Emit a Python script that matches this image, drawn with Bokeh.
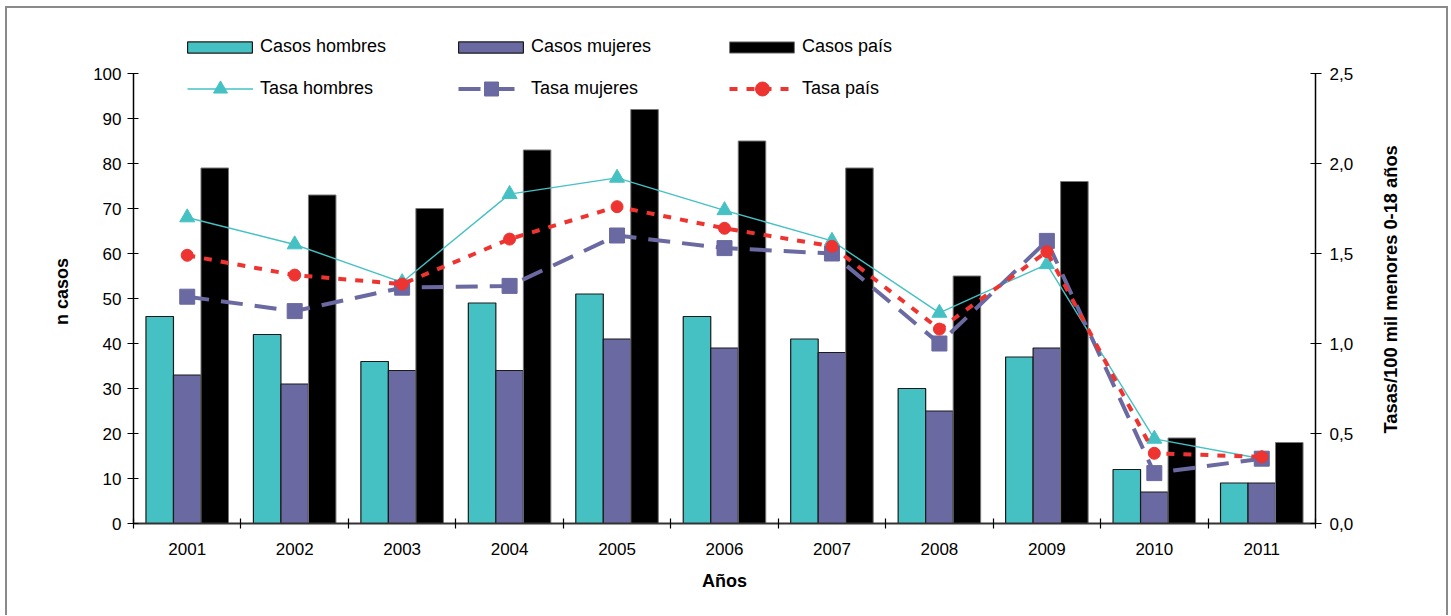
import math
import numpy as np
from bokeh.plotting import figure
from bokeh.models import (Range1d, LinearAxis, FixedTicker, CustomJSTickFormatter,
                          Legend, LegendItem)
from bokeh.embed import file_html
from bokeh.resources import INLINE

# Yearly cases and rates per 100k population aged 0-18
years = ["2001", "2002", "2003", "2004", "2005", "2006",
         "2007", "2008", "2009", "2010", "2011"]
casos_hombres = [46, 42, 36, 49, 51, 46, 41, 30, 37, 12, 9]
casos_mujeres = [33, 31, 34, 34, 41, 39, 38, 25, 39, 7, 9]
casos_pais = [79, 73, 70, 83, 92, 85, 79, 55, 76, 19, 18]
tasa_hombres = [1.70, 1.55, 1.34, 1.83, 1.92, 1.74, 1.57, 1.17, 1.44, 0.47, 0.36]
tasa_mujeres = [1.26, 1.18, 1.31, 1.32, 1.60, 1.53, 1.50, 1.00, 1.57, 0.28, 0.36]
tasa_pais = [1.49, 1.38, 1.33, 1.58, 1.76, 1.64, 1.54, 1.08, 1.51, 0.39, 0.37]

left_ticks = [0, 10, 20, 30, 40, 50, 60, 70, 80, 90, 100]
right_ticks = [0.0, 0.5, 1.0, 1.5, 2.0, 2.5]
right_title = "Tasas/100 mil menores 0-18 años"

CYAN = "#45C1C4"
PURPLE = "#6A69A1"
RED = "#EE3431"
FONT = "Liberation Sans"
GRAY = "#8a8a8a"
NBSP = "\u00a0"

n = len(years)
x = np.arange(n) + 0.5
w = 0.256

# Plot frame: axes run over the lower 450 px; the strip above holds the legends
FRAME_H = 489
AXIS_H = 450
left_max = 100 * FRAME_H / AXIS_H
right_max = 2.5 * FRAME_H / AXIS_H

p = figure(width=1443, height=609, x_range=Range1d(0, n),
           y_range=Range1d(0, left_max),
           output_backend="svg", toolbar_location=None,
           min_border_left=128, min_border_right=133,
           min_border_top=28, min_border_bottom=92)
p.margin = (6, 3, 0, 5)
p.styles = {"box-shadow": f"inset 2px 0 0 {GRAY}, inset -2px 0 0 {GRAY}, inset 0 2px 0 {GRAY}"}
p.outline_line_color = None
p.xgrid.visible = False
p.ygrid.visible = False
p.background_fill_color = "white"
p.border_fill_alpha = 0

# bars (left axis)
b1 = p.vbar(x=x - w, top=casos_hombres, width=w, bottom=0,
            fill_color=CYAN, line_color="#1a1a1a", line_width=1.2)
b2 = p.vbar(x=x, top=casos_mujeres, width=w, bottom=0,
            fill_color=PURPLE, line_color="#1a1a1a", line_width=1.2)
b3 = p.vbar(x=x + w, top=casos_pais, width=w, bottom=0,
            fill_color="black", line_color="#777777", line_width=1.0)

# rates (right axis)
p.extra_y_ranges = {"tasa": Range1d(0, right_max)}
lh = p.line(x, tasa_hombres, y_range_name="tasa", line_color=CYAN, line_width=1.4)
sh = p.scatter(x, tasa_hombres, y_range_name="tasa", marker="triangle", size=15,
               fill_color=CYAN, line_color=CYAN)
lm = p.line(x, tasa_mujeres, y_range_name="tasa", line_color=PURPLE, line_width=4,
            line_dash="22 12")
sm = p.scatter(x, tasa_mujeres, y_range_name="tasa", marker="square", size=15,
               fill_color=PURPLE, line_color=PURPLE)
lp = p.line(x, tasa_pais, y_range_name="tasa", line_color=RED, line_width=4,
            line_dash="8 9")
sp = p.scatter(x, tasa_pais, y_range_name="tasa", marker="circle", size=12,
               fill_color=RED, line_color=RED)

# x axis: labels at the category centres, ticks at the boundaries
xa = p.xaxis[0]
xa.ticker = FixedTicker(ticks=list(x), minor_ticks=list(range(n + 1)))
xa.formatter = CustomJSTickFormatter(args=dict(labels=years),
                                     code="return labels[Math.floor(tick)]")
xa.major_tick_in = 0
xa.major_tick_out = 0
xa.minor_tick_in = 5
xa.minor_tick_out = 5
xa.minor_tick_line_color = "black"
xa.minor_tick_line_width = 1.2
xa.axis_line_color = "#333333"
xa.axis_line_width = 2
xa.major_label_standoff = 14
xa.major_label_text_font = FONT
xa.major_label_text_font_size = "17px"
xa.major_label_text_color = "black"
xa.axis_label = "Años"
xa.axis_label_standoff = 13
xa.axis_label_text_font = FONT
xa.axis_label_text_font_size = "18px"
xa.axis_label_text_font_style = "bold"
xa.axis_label_text_color = "black"

# left axis (trailing no-break spaces centre the title on the 0-100 span)
ya = p.yaxis[0]
ya.ticker = FixedTicker(ticks=left_ticks)
ya.bounds = (0, 100)
ya.axis_label = "n casos" + NBSP * 5
ya.axis_label_text_font = FONT
ya.axis_label_text_font_size = "18px"
ya.axis_label_text_font_style = "bold"
ya.axis_label_text_color = "black"
ya.axis_label_standoff = 18
ya.major_label_standoff = 6

# right axis for the rates
right = LinearAxis(y_range_name="tasa", ticker=FixedTicker(ticks=right_ticks),
                   formatter=CustomJSTickFormatter(
                       code="return tick.toFixed(1).replace('.', ',')"),
                   bounds=(0, 2.5), major_label_standoff=8)
p.add_layout(right, "right")

for ax in (ya, right):
    ax.major_tick_in = 5
    ax.major_tick_out = 6
    ax.minor_tick_line_color = None
    ax.axis_line_color = "black"
    ax.axis_line_width = 1.5
    ax.major_tick_line_width = 1.2
    ax.major_label_text_font = FONT
    ax.major_label_text_font_size = "17px"
    ax.major_label_text_color = "black"

# rate axis title, reading bottom-to-top and starting level with 0,5
right_title_axis = LinearAxis(y_range_name="tasa", ticker=FixedTicker(ticks=[0.5]),
                              formatter=CustomJSTickFormatter(
                                  args=dict(t=right_title), code="return t"),
                              major_label_orientation=math.pi / 2,
                              axis_line_color=None, major_tick_line_color=None,
                              minor_tick_line_color=None, major_tick_in=0,
                              major_tick_out=0, major_label_standoff=34,
                              major_label_text_font=FONT,
                              major_label_text_font_size="18.3px",
                              major_label_text_font_style="bold",
                              major_label_text_color="black")
p.add_layout(right_title_axis, "right")

# legends: case bars on the first row, rates on the second
legend_style = dict(orientation="horizontal", spacing=0, padding=0, margin=0,
                    border_line_color=None, background_fill_alpha=0,
                    label_height=20, label_text_font=FONT,
                    label_text_font_size="18px", label_text_color="black")

bar_legend = Legend(items=[LegendItem(label="Casos hombres", renderers=[b1]),
                           LegendItem(label="Casos mujeres", renderers=[b2]),
                           LegendItem(label="Casos país", renderers=[b3])],
                    location=(46, 466), glyph_width=81, glyph_height=14,
                    label_standoff=0, label_width=190, **legend_style)
p.add_layout(bar_legend, "center")

rate_legend = Legend(items=[LegendItem(label="Tasa hombres", renderers=[lh, sh]),
                            LegendItem(label="Tasa mujeres", renderers=[lm, sm]),
                            LegendItem(label="Tasa país", renderers=[lp, sp])],
                     location=(54, 417), glyph_width=66, glyph_height=35,
                     label_standoff=7, label_width=198, **legend_style)
p.add_layout(rate_legend, "center")

open("out.html", "w").write(file_html(p, INLINE))
